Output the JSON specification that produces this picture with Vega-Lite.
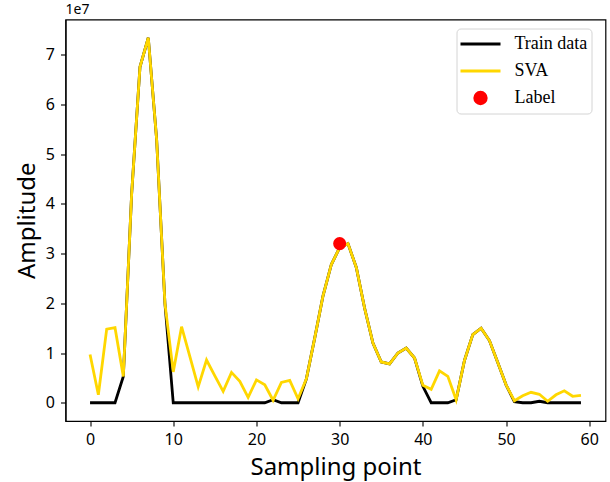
{
  "$schema": "https://vega.github.io/schema/vega-lite/v6.json",
  "width": 540,
  "height": 401.5,
  "autosize": {"type": "none"},
  "padding": {"left": 65.5, "top": 19.5, "right": 4.5, "bottom": 61},
  "background": "white",
  "title": {"text": "1e7", "anchor": "start", "frame": "group", "font": "Noto Sans", "fontSize": 14, "fontWeight": "normal", "color": "black", "offset": 3},
  "datasets": {
    "train": [
      {"i": 0, "series": "Train data", "amp": 0},
      {"i": 1, "series": "Train data", "amp": 0},
      {"i": 2, "series": "Train data", "amp": 0},
      {"i": 3, "series": "Train data", "amp": 0},
      {"i": 4, "series": "Train data", "amp": 5300000},
      {"i": 5, "series": "Train data", "amp": 42000000},
      {"i": 6, "series": "Train data", "amp": 67500000},
      {"i": 7, "series": "Train data", "amp": 73400000},
      {"i": 8, "series": "Train data", "amp": 53000000},
      {"i": 9, "series": "Train data", "amp": 20000000},
      {"i": 10, "series": "Train data", "amp": 0},
      {"i": 11, "series": "Train data", "amp": 0},
      {"i": 12, "series": "Train data", "amp": 0},
      {"i": 13, "series": "Train data", "amp": 0},
      {"i": 14, "series": "Train data", "amp": 0},
      {"i": 15, "series": "Train data", "amp": 0},
      {"i": 16, "series": "Train data", "amp": 0},
      {"i": 17, "series": "Train data", "amp": 0},
      {"i": 18, "series": "Train data", "amp": 0},
      {"i": 19, "series": "Train data", "amp": 0},
      {"i": 20, "series": "Train data", "amp": 0},
      {"i": 21, "series": "Train data", "amp": 0},
      {"i": 22, "series": "Train data", "amp": 600000},
      {"i": 23, "series": "Train data", "amp": 0},
      {"i": 24, "series": "Train data", "amp": 0},
      {"i": 25, "series": "Train data", "amp": 0},
      {"i": 26, "series": "Train data", "amp": 4800000},
      {"i": 27, "series": "Train data", "amp": 13000000},
      {"i": 28, "series": "Train data", "amp": 21500000},
      {"i": 29, "series": "Train data", "amp": 27800000},
      {"i": 30, "series": "Train data", "amp": 31200000},
      {"i": 31, "series": "Train data", "amp": 32000000},
      {"i": 32, "series": "Train data", "amp": 27200000},
      {"i": 33, "series": "Train data", "amp": 19000000},
      {"i": 34, "series": "Train data", "amp": 12000000},
      {"i": 35, "series": "Train data", "amp": 8200000},
      {"i": 36, "series": "Train data", "amp": 7800000},
      {"i": 37, "series": "Train data", "amp": 10000000},
      {"i": 38, "series": "Train data", "amp": 11000000},
      {"i": 39, "series": "Train data", "amp": 9000000},
      {"i": 40, "series": "Train data", "amp": 3300000},
      {"i": 41, "series": "Train data", "amp": 0},
      {"i": 42, "series": "Train data", "amp": 0},
      {"i": 43, "series": "Train data", "amp": 0},
      {"i": 44, "series": "Train data", "amp": 600000},
      {"i": 45, "series": "Train data", "amp": 8500000},
      {"i": 46, "series": "Train data", "amp": 13700000},
      {"i": 47, "series": "Train data", "amp": 15000000},
      {"i": 48, "series": "Train data", "amp": 12500000},
      {"i": 49, "series": "Train data", "amp": 8100000},
      {"i": 50, "series": "Train data", "amp": 3600000},
      {"i": 51, "series": "Train data", "amp": 200000},
      {"i": 52, "series": "Train data", "amp": 0},
      {"i": 53, "series": "Train data", "amp": 0},
      {"i": 54, "series": "Train data", "amp": 300000},
      {"i": 55, "series": "Train data", "amp": 0},
      {"i": 56, "series": "Train data", "amp": 0},
      {"i": 57, "series": "Train data", "amp": 0},
      {"i": 58, "series": "Train data", "amp": 0},
      {"i": 59, "series": "Train data", "amp": 0}
    ],
    "sva": [
      {"i": 0, "series": "SVA", "amp": 9700000},
      {"i": 1, "series": "SVA", "amp": 1600000},
      {"i": 2, "series": "SVA", "amp": 14800000},
      {"i": 3, "series": "SVA", "amp": 15100000},
      {"i": 4, "series": "SVA", "amp": 5300000},
      {"i": 5, "series": "SVA", "amp": 42000000},
      {"i": 6, "series": "SVA", "amp": 67500000},
      {"i": 7, "series": "SVA", "amp": 73400000},
      {"i": 8, "series": "SVA", "amp": 53000000},
      {"i": 9, "series": "SVA", "amp": 20000000},
      {"i": 10, "series": "SVA", "amp": 6200000},
      {"i": 11, "series": "SVA", "amp": 15300000},
      {"i": 12, "series": "SVA", "amp": 9300000},
      {"i": 13, "series": "SVA", "amp": 3200000},
      {"i": 14, "series": "SVA", "amp": 8600000},
      {"i": 15, "series": "SVA", "amp": 5400000},
      {"i": 16, "series": "SVA", "amp": 2300000},
      {"i": 17, "series": "SVA", "amp": 6100000},
      {"i": 18, "series": "SVA", "amp": 4300000},
      {"i": 19, "series": "SVA", "amp": 1100000},
      {"i": 20, "series": "SVA", "amp": 4600000},
      {"i": 21, "series": "SVA", "amp": 3600000},
      {"i": 22, "series": "SVA", "amp": 500000},
      {"i": 23, "series": "SVA", "amp": 4100000},
      {"i": 24, "series": "SVA", "amp": 4500000},
      {"i": 25, "series": "SVA", "amp": 800000},
      {"i": 26, "series": "SVA", "amp": 4800000},
      {"i": 27, "series": "SVA", "amp": 13000000},
      {"i": 28, "series": "SVA", "amp": 21500000},
      {"i": 29, "series": "SVA", "amp": 27800000},
      {"i": 30, "series": "SVA", "amp": 31200000},
      {"i": 31, "series": "SVA", "amp": 32000000},
      {"i": 32, "series": "SVA", "amp": 27200000},
      {"i": 33, "series": "SVA", "amp": 19000000},
      {"i": 34, "series": "SVA", "amp": 12000000},
      {"i": 35, "series": "SVA", "amp": 8200000},
      {"i": 36, "series": "SVA", "amp": 7800000},
      {"i": 37, "series": "SVA", "amp": 10000000},
      {"i": 38, "series": "SVA", "amp": 11000000},
      {"i": 39, "series": "SVA", "amp": 9000000},
      {"i": 40, "series": "SVA", "amp": 3500000},
      {"i": 41, "series": "SVA", "amp": 2700000},
      {"i": 42, "series": "SVA", "amp": 6400000},
      {"i": 43, "series": "SVA", "amp": 5300000},
      {"i": 44, "series": "SVA", "amp": 600000},
      {"i": 45, "series": "SVA", "amp": 8500000},
      {"i": 46, "series": "SVA", "amp": 13700000},
      {"i": 47, "series": "SVA", "amp": 15000000},
      {"i": 48, "series": "SVA", "amp": 12500000},
      {"i": 49, "series": "SVA", "amp": 8100000},
      {"i": 50, "series": "SVA", "amp": 3600000},
      {"i": 51, "series": "SVA", "amp": 400000},
      {"i": 52, "series": "SVA", "amp": 1400000},
      {"i": 53, "series": "SVA", "amp": 2100000},
      {"i": 54, "series": "SVA", "amp": 1700000},
      {"i": 55, "series": "SVA", "amp": 300000},
      {"i": 56, "series": "SVA", "amp": 1600000},
      {"i": 57, "series": "SVA", "amp": 2400000},
      {"i": 58, "series": "SVA", "amp": 1300000},
      {"i": 59, "series": "SVA", "amp": 1500000}
    ],
    "label": [
      {"i": 30, "series": "Label", "amp": 32000000}
    ]
  },
  "config": {
    "view": {"stroke": "black", "strokeWidth": 1.2},
    "axis": {
      "domainColor": "black", "domainWidth": 1.2, "tickColor": "black", "tickSize": 5, "tickWidth": 1.1,
      "labelFont": "Noto Sans", "labelFontSize": 16, "labelColor": "black",
      "titleFont": "Noto Sans", "titleFontSize": 24, "titleFontWeight": "normal", "titleColor": "black",
      "grid": false, "labelFlush": false
    }
  },
  "layer": [
    {
      "data": {"name": "train"},
      "mark": {"type": "line", "strokeWidth": 2.8, "clip": true},
      "encoding": {
        "x": {"field": "i", "type": "quantitative",
          "scale": {"domain": [-2.95, 61.95], "nice": false, "zero": false},
          "axis": {"values": [0, 10, 20, 30, 40, 50, 60], "title": "Sampling point", "labelPadding": 5, "titleBaseline": "alphabetic", "titleY": 53}},
        "y": {"field": "amp", "type": "quantitative",
          "scale": {"domain": [-3670000, 77070000], "nice": false, "zero": false},
          "axis": {"values": [0, 10000000, 20000000, 30000000, 40000000, 50000000, 60000000, 70000000], "labelExpr": "format(datum.value / 10000000, 'd')", "title": "Amplitude", "labelPadding": 6, "titleBaseline": "alphabetic", "titleX": -31}},
        "color": {"field": "series", "type": "nominal",
          "scale": {"domain": ["Train data", "SVA", "Label"], "range": ["#000000", "#FFD700", "#FF0000"]},
          "legend": {
            "orient": "none", "legendX": 391, "legendY": 9, "title": null,
            "labelFont": "Liberation Serif", "labelFontSize": 18, "labelColor": "black",
            "symbolSize": 400, "labelOffset": 31, "rowPadding": 6, "padding": 4,
            "strokeColor": "#d4d4d4", "fillColor": "rgba(255,255,255,0.85)", "cornerRadius": 4,
            "encode": {
              "symbols": {
                "update": {
                  "shape": {"signal": "datum.value === 'Label' ? 'circle' : 'M-2,0H2'"},
                  "size": {"signal": "datum.value === 'Label' ? 133 : 400"},
                  "x": {"value": 20},
                  "fill": {"signal": "datum.value === 'Label' ? '#FF0000' : 'transparent'"},
                  "stroke": {"signal": "datum.value === 'Label' ? 'transparent' : (datum.value === 'SVA' ? '#FFD700' : '#000000')"},
                  "strokeWidth": {"value": 2.8},
                  "opacity": {"value": 1}
                }
              }
            }
          }}
      }
    },
    {
      "data": {"name": "sva"},
      "mark": {"type": "line", "strokeWidth": 2.8, "clip": true},
      "encoding": {
        "x": {"field": "i", "type": "quantitative"},
        "y": {"field": "amp", "type": "quantitative"},
        "color": {"field": "series", "type": "nominal"}
      }
    },
    {
      "data": {"name": "label"},
      "mark": {"type": "point", "filled": true, "size": 170, "opacity": 1},
      "encoding": {
        "x": {"field": "i", "type": "quantitative"},
        "y": {"field": "amp", "type": "quantitative"},
        "color": {"field": "series", "type": "nominal"}
      }
    }
  ]
}
